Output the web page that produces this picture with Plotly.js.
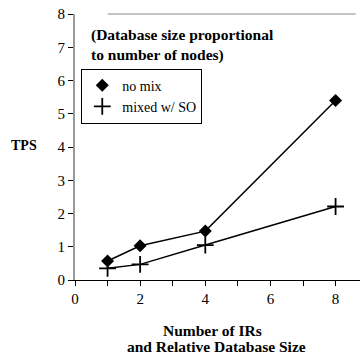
<!DOCTYPE html>
<html><head><meta charset="utf-8">
<script src="https://cdn.plot.ly/plotly-3.0.1.min.js"></script>
<style>html,body{margin:0;padding:0;background:#fff}#c{width:362px;height:354px}</style>
</head><body><div id="c"></div>
<script>
var nodes = [1, 2, 4, 8];
var noMix = [0.57, 1.03, 1.47, 5.4];
var mixedSO = [0.35, 0.47, 1.05, 2.21];
var seriesNames = ["no mix", "mixed w/ SO"];
var xTicks = [0, 2, 4, 6, 8];
var yTicks = [0, 1, 2, 3, 4, 5, 6, 7, 8];

var serif = "Liberation Serif, Times New Roman, serif";
var mk = [
  {symbol: "diamond", size: 10, color: "#000"},
  {symbol: "cross-thin", size: 12, color: "#000", line: {color: "#000", width: 1.8}}
];
var traces = [
  {x: nodes, y: noMix, name: seriesNames[0], mode: "lines+markers", showlegend: false,
   line: {color: "#000", width: 1.5}, marker: mk[0]},
  {x: nodes, y: mixedSO, name: seriesNames[1], mode: "lines+markers", showlegend: false,
   line: {color: "#000", width: 1.5}, marker: mk[1]},
  {x: [null], y: [null], name: seriesNames[0], mode: "markers", marker: mk[0]},
  {x: [null], y: [null], name: seriesNames[1], mode: "markers", marker: mk[1]}
];
var layout = {
  width: 362, height: 354,
  margin: {l: 75, r: 2, t: 14, b: 74},
  paper_bgcolor: "#fff", plot_bgcolor: "#fff",
  showlegend: true,
  legend: {x: 0.022, y: 0.795, xanchor: "left", yanchor: "top",
    bordercolor: "#000", borderwidth: 1, bgcolor: "#fff",
    font: {family: serif, size: 14, color: "#000"},
    tracegroupgap: 0, itemwidth: 30},
  font: {family: serif, color: "#000"},
  xaxis: {range: [0, 8.75], tickvals: xTicks, ticks: "outside", ticklen: 5,
    tickcolor: "#000", showgrid: false, zeroline: false, showline: true,
    linecolor: "#000", linewidth: 1, tickfont: {family: serif, size: 15, color: "#000"},
    minor: {dtick: 1, tick0: 0, ticks: "outside", ticklen: 5, tickcolor: "#000", showgrid: false}},
  yaxis: {range: [0, 8], tickvals: yTicks, ticks: "outside", ticklen: 5,
    tickcolor: "#000", showgrid: false, zeroline: false, showline: true,
    linecolor: "#999", linewidth: 2, tickfont: {family: serif, size: 15, color: "#000"}},
  shapes: [
    {type: "line", xref: "paper", yref: "paper", x0: 0.115, x1: 0.985, y0: 1, y1: 1,
     line: {color: "#888", width: 1}}
  ],
  annotations: [
    {xref: "paper", yref: "paper", x: 0.05, y: 0.962, xanchor: "left", yanchor: "top",
     align: "left", showarrow: false,
     text: "<b>(Database size proportional<br>to number of nodes)</b>",
     font: {family: serif, size: 15.5, color: "#000"}},
    {xref: "paper", yref: "paper", x: -0.18, y: 0.505, xanchor: "center", yanchor: "middle",
     showarrow: false, text: "<b>TPS</b>", font: {family: serif, size: 14, color: "#000"}},
    {xref: "paper", yref: "paper", x: 0.482, y: -0.19, xanchor: "center", yanchor: "middle",
     showarrow: false, text: "<b>Number of IRs</b>", font: {family: serif, size: 15.5, color: "#000"}},
    {xref: "paper", yref: "paper", x: 0.498, y: -0.25, xanchor: "center", yanchor: "middle",
     showarrow: false, text: "<b>and Relative Database Size</b>", font: {family: serif, size: 15.5, color: "#000"}}
  ]
};
Plotly.newPlot("c", traces, layout, {displayModeBar: false, staticPlot: true});
</script></body></html>
